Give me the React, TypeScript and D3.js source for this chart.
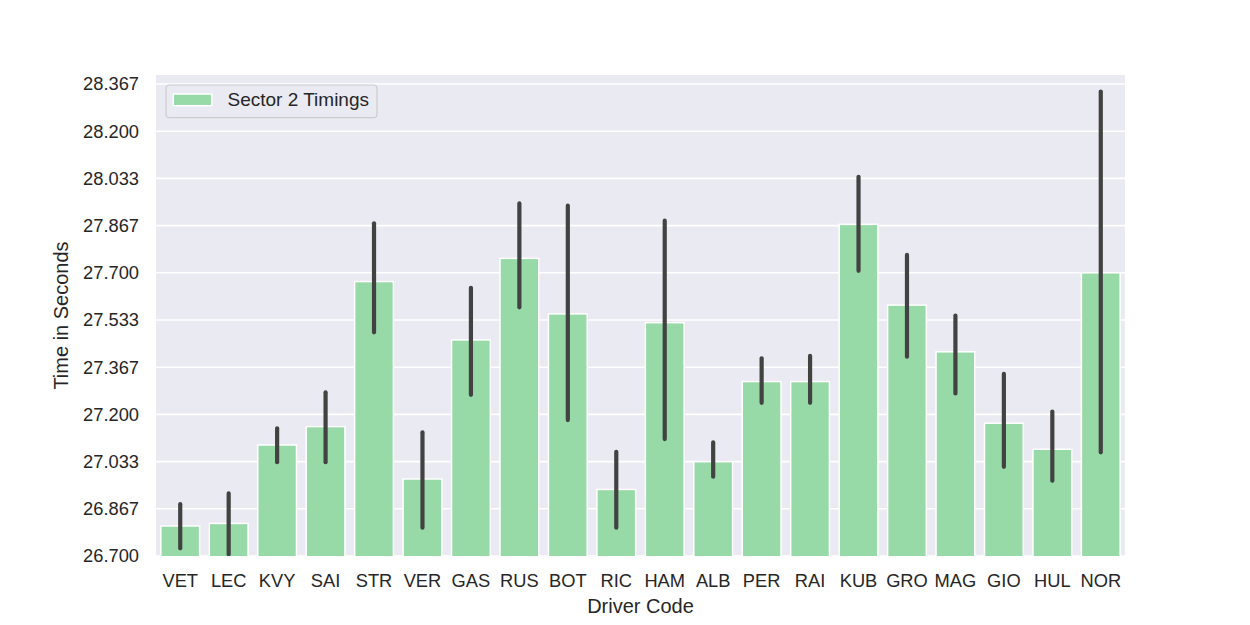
import React from "react";
import * as d3 from "d3";

const drivers = ["VET","LEC","KVY","SAI","STR","VER","GAS","RUS","BOT","RIC","HAM","ALB","PER","RAI","KUB","GRO","MAG","GIO","HUL","NOR"];
const meanTimes = [26.806,26.815,27.092,27.157,27.669,26.972,27.463,27.751,27.555,26.935,27.524,27.033,27.316,27.316,27.871,27.586,27.421,27.169,27.077,27.700];
const ciLow = [26.727,26.706,27.031,27.031,27.490,26.800,27.269,27.578,27.180,26.800,27.113,26.980,27.241,27.241,27.707,27.404,27.274,27.015,26.966,27.066];
const ciHigh = [26.883,26.921,27.151,27.278,27.875,27.137,27.647,27.945,27.937,27.068,27.884,27.101,27.398,27.407,28.039,27.763,27.549,27.343,27.210,28.340];
const yTicks = [26.7,26.8667,27.0333,27.2,27.3667,27.5333,27.7,27.8667,28.0333,28.2,28.3667];
const seriesName = "Sector 2 Timings";
const xLabel = "Driver Code";
const yLabel = "Time in Seconds";

const W = 1250, H = 625;
const L = 156, R = 1125, T = 75, B = 556;
const barColor = "#98DAA7";
const bg = "#EAEAF2";
const txt = "#262626";
const font = "'Liberation Sans', Arial, sans-serif";

export default function App() {
  const x = d3.scaleBand<string>().domain(drivers).range([L, R]).paddingInner(0).paddingOuter(0);
  const y = d3.scaleLinear().domain([26.7, 28.3985]).range([B, T]);
  const bw = x.bandwidth() * 0.8;
  return (
    <div style={{ position: "absolute", left: 0, top: 0 }}>
      <svg width={W} height={H} style={{ display: "block" }}>
        <rect x={0} y={0} width={W} height={H} fill="#ffffff" />
        <rect x={L} y={T} width={R - L} height={B - T} fill={bg} />
        <defs>
          <clipPath id="plotclip">
            <rect x={L} y={T} width={R - L} height={B - T} />
          </clipPath>
        </defs>
        <g clipPath="url(#plotclip)">
          {yTicks.map((t, i) => (
            <line key={i} x1={L} x2={R} y1={y(t)} y2={y(t)} stroke="#ffffff" strokeWidth={1.6} />
          ))}
          {drivers.map((d, i) => {
            const cx = (x(d) as number) + x.bandwidth() / 2;
            return (
              <rect key={d} x={cx - bw / 2} y={y(meanTimes[i])} width={bw} height={B - y(meanTimes[i]) + 5}
                fill={barColor} stroke="#ffffff" strokeWidth={1.5} />
            );
          })}
          {drivers.map((d, i) => {
            const cx = (x(d) as number) + x.bandwidth() / 2;
            return (
              <line key={d + "e"} x1={cx} x2={cx} y1={y(ciLow[i])} y2={y(ciHigh[i])}
                stroke="#424242" strokeWidth={4.2} strokeLinecap="round" />
            );
          })}
        </g>
        {yTicks.map((t, i) => (
          <text key={i} x={139} y={y(t)} dy="0.35em" textAnchor="end" fontFamily={font} fontSize={18.3} fill={txt}>
            {t.toFixed(3)}
          </text>
        ))}
        {drivers.map((d) => (
          <text key={d} x={(x(d) as number) + x.bandwidth() / 2} y={587} textAnchor="middle" fontFamily={font} fontSize={18.3} fill={txt}>
            {d}
          </text>
        ))}
        <text x={(L + R) / 2} y={613} textAnchor="middle" fontFamily={font} fontSize={20} fill={txt}>{xLabel}</text>
        <text transform={`translate(68,${(T + B) / 2}) rotate(-90)`} textAnchor="middle" fontFamily={font} fontSize={20} fill={txt}>{yLabel}</text>
        <g>
          <rect x={166} y={85} width={211} height={32.7} rx={3.5} fill={bg} fillOpacity={0.8} stroke="#cccccc" strokeWidth={1.2} />
          <rect x={173.3} y={94} width={38.4} height={11.7} fill={barColor} stroke="#ffffff" strokeWidth={1.5} />
          <text x={227.5} y={106.3} fontFamily={font} fontSize={19} fill={txt}>{seriesName}</text>
        </g>
      </svg>
    </div>
  );
}
